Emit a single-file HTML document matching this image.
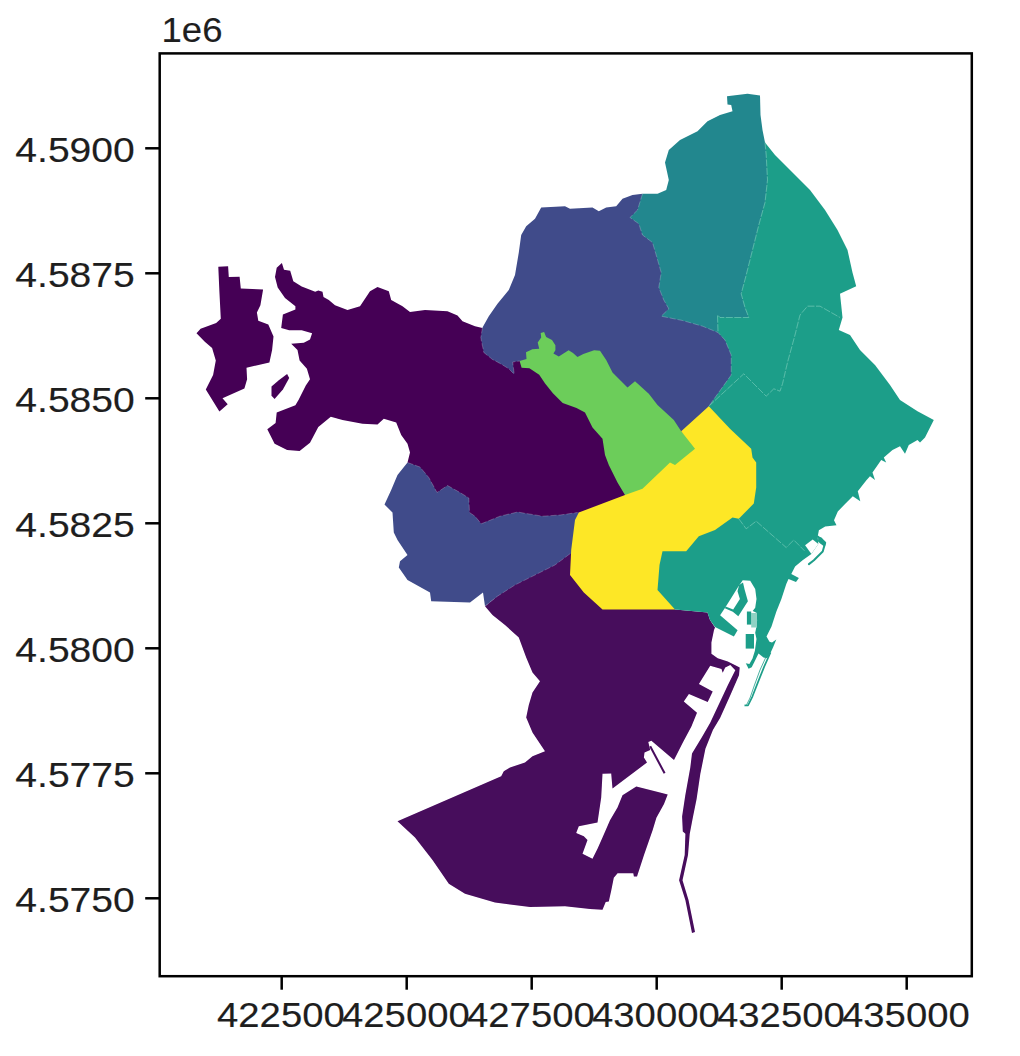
<!DOCTYPE html>
<html lang="en"><head><meta charset="utf-8"><title>Barcelona districts</title>
<style>html,body{margin:0;padding:0;background:#fff;}body{width:1020px;height:1056px;overflow:hidden;}svg{display:block;}text{font-family:"Liberation Sans",sans-serif;fill:#1e1e1e;stroke:#1e1e1e;stroke-width:0.15px;}</style></head><body>
<svg width="1020" height="1056" viewBox="0 0 1020 1056">
<rect width="1020" height="1056" fill="#ffffff"/>
<defs><filter id="soft" x="-2%" y="-2%" width="104%" height="104%"><feGaussianBlur stdDeviation="0.45"/></filter></defs>
<g id="map" shape-rendering="geometricPrecision" filter="url(#soft)">
<polygon points="281.9,262.9 284.0,269.8 290.2,270.8 293.3,281.2 301.7,286.5 315.2,291.7 318.3,290.6 322.5,291.7 323.5,296.9 328.8,300.0 335.0,305.2 347.5,310.0 360.0,306.2 370.0,291.2 377.5,287.0 388.8,291.2 391.2,300.0 402.5,306.2 410.0,312.0 425.0,310.0 447.5,311.2 457.5,315.5 462.5,321.2 475.0,326.2 482.5,328.0 525.0,335.0 600.0,400.0 640.0,490.0 625.0,502.0 585.0,520.0 470.0,525.0 420.0,480.0 407.5,462.5 410.0,452.5 407.5,443.8 401.2,435.0 396.2,422.5 383.8,418.8 377.5,424.5 362.5,423.8 342.5,420.0 330.8,416.7 318.3,427.1 310.0,442.7 299.6,451.0 287.1,450.0 274.6,443.8 267.3,429.2 275.6,422.9 276.7,412.5 295.4,405.2 298.5,400.0 305.8,385.4 310.0,379.2 306.9,368.8 299.6,360.4 297.5,350.0 291.2,343.8 303.8,342.7 310.0,339.6 312.1,333.3 301.7,330.2 289.2,330.2 281.2,328.1 282.9,314.6 295.4,309.4 295.4,306.2 285.0,297.9 277.7,287.5 275.0,277.1 276.7,267.7" fill="#440154" />
<polygon points="218.3,266.7 228.1,266.3 228.8,277.1 239.6,276.7 240.8,288.5 263.1,289.6 260.4,305.2 256.9,312.5 258.3,320.8 268.3,324.6 273.5,336.5 272.1,350.0 269.4,362.5 246.5,367.7 247.1,379.2 244.4,388.5 222.5,398.3 227.7,404.2 219.4,411.5 205.8,389.6 213.1,375.0 215.8,360.4 212.1,347.9 204.8,341.7 196.5,333.3 200.6,328.8 216.2,322.9 220.8,318.8 219.4,291.7" fill="#440154" />
<polygon points="287.1,374.0 289.2,378.1 282.9,389.6 274.6,399.0 271.5,395.8 271.5,386.5 278.8,380.2" fill="#440154" />
<polygon points="485.0,606.2 492.5,615.0 505.0,625.0 518.8,637.5 526.2,657.5 532.5,672.5 540.0,681.2 532.5,692.5 528.8,705.0 526.2,717.5 532.5,732.5 545.0,751.2 532.5,756.2 525.0,762.5 510.0,767.5 503.8,771.2 501.2,776.2 397.5,821.2 415.0,837.5 432.5,860.0 448.8,883.8 465.0,893.8 495.0,902.5 530.0,907.0 565.0,906.2 590.0,909.0 602.5,909.7 605.7,902.1 608.8,901.5 611.3,890.2 613.8,877.7 617.6,873.3 633.3,873.3 633.9,876.4 637.0,876.4 644.0,855.1 652.7,830.0 656.4,817.8 664.0,804.0 667.7,794.6 660.0,792.5 636.3,786.5 622.5,795.2 617.5,807.5 610.0,820.3 602.5,837.5 597.5,848.8 592.5,858.8 582.5,853.8 587.5,840.0 583.8,836.2 576.2,833.0 578.8,826.2 597.5,822.5 601.2,797.5 602.5,773.8 611.2,773.5 612.5,788.5 647.0,762.6 643.9,757.6 644.5,752.6 650.2,750.1 648.3,741.9 651.4,740.7 674.0,760.1 682.6,742.9 691.4,726.6 697.0,712.8 683.8,701.5 688.9,694.0 707.7,702.1 712.7,691.5 698.9,684.0 710.2,665.8 721.5,668.9 722.7,672.7 725.2,667.6 730.3,665.1 735.3,670.2 727.8,685.2 719.0,704.0 710.2,722.8 702.0,737.0 692.0,753.5 690.3,767.6 685.3,795.2 682.1,816.6 682.8,831.6 685.4,833.8 684.7,855.1 679.1,880.2 685.4,900.3 692.0,933.0 695.0,932.0 688.5,900.0 682.5,880.2 688.0,855.0 689.7,834.1 692.8,817.8 696.6,799.0 700.3,773.9 705.4,748.8 712.9,730.0 720.2,717.8 730.3,695.2 739.0,675.2 739.7,667.6 737.8,666.4 727.8,661.4 717.7,658.2 711.4,653.8 711.4,642.5 714.0,630.0 715.0,627.5 710.0,620.0 707.5,612.5 675.0,609.5 670.0,595.0 605.0,595.0 585.0,560.0 580.0,545.0 540.0,560.0" fill="#46085c" />
<polyline points="650.2,746.3 664.6,773.3" fill="none" stroke="#46085c" stroke-width="2.0" />
<polygon points="765.0,142.5 775.0,155.0 792.5,172.5 810.0,190.0 825.0,210.0 837.5,230.0 847.5,250.0 852.5,272.5 856.2,286.2 840.0,293.8 841.2,305.0 842.5,317.5 838.8,330.0 850.0,335.0 860.0,350.0 875.0,365.0 890.0,385.0 900.0,400.0 917.5,411.2 933.8,420.0 925.0,437.5 920.0,442.5 917.5,440.0 908.8,445.0 905.0,453.8 900.0,446.2 892.5,450.0 883.8,457.5 886.2,462.5 881.2,460.0 872.5,472.5 875.0,480.0 870.0,476.2 866.6,480.0 857.8,491.3 860.3,501.3 852.8,496.3 845.3,503.8 837.8,511.4 834.0,520.2 836.5,525.2 825.2,526.4 818.9,530.2 817.7,536.5 818.3,544.0 811.4,554.0 802.6,560.3 795.1,566.6 791.3,574.1 798.9,578.0 796.0,582.0 788.5,579.0 786.3,584.1 781.3,599.2 776.3,611.7 771.5,626.6 766.5,636.6 769.5,641.8 772.0,642.5 776.3,639.5 773.0,647.5 769.3,655.4 767.0,658.2 763.5,657.5 758.5,653.5 754.1,662.5 751.7,667.2 748.6,668.8 745.8,663.3 749.4,664.1 752.5,658.6 754.9,650.7 756.5,639.1 755.2,632.8 756.5,626.6 757.1,620.3 756.5,612.8 752.7,610.9 755.2,607.8 756.5,599.0 755.2,588.9 750.2,580.8 742.7,580.2 737.6,587.7 731.4,597.7 725.1,607.8 720.1,615.3 737.6,630.3 733.9,636.6 715.0,627.0 710.0,620.0 707.5,612.5 675.0,609.5 650.0,600.0 650.0,545.0 700.0,500.0 700.0,300.0 740.0,200.0" fill="#1f9e89" />
<polygon points="805.1,545.2 812.7,539.6 818.3,544.0 811.4,554.0" fill="#ffffff" />
<polyline points="817.7,536.5 825.2,542.7 822.7,551.5 813.9,560.3 808.9,564.1" fill="none" stroke="#1f9e89" stroke-width="2" stroke-linejoin="round" stroke-linecap="round"/>
<polygon points="739.1,584.9 743.0,582.6 744.6,589.6 747.9,601.2 738.3,616.3 732.8,611.8 724.9,608.3 725.6,606.6 733.2,609.6 739.9,599.1 737.5,591.2" fill="#1f9e89" />
<polygon points="751.2,613.0 757.0,613.0 757.0,627.5 751.2,627.5" fill="#8fd2c4" />
<polygon points="746.9,611.5 751.2,611.5 751.2,624.6 746.9,624.6" fill="#1f9e89" />
<polyline points="770.5,652.5 764.3,666.4 758.0,682.1 752.5,696.3 748.0,705.5 744.5,705.3" fill="none" stroke="#1f9e89" stroke-width="1.7" stroke-linejoin="round"/>
<polygon points="818.3,536.6 821.5,537.6 825.8,542.3 825.0,546.6 822.6,545.2 820.2,543.6 818.0,541.5" fill="#1f9e89" />
<polyline points="765.5,658.0 760.0,670.0 754.5,685.0 750.0,698.0 746.5,705.0" fill="none" stroke="#1f9e89" stroke-width="1.0" stroke-opacity="0.8"/>
<polygon points="745.7,634.0 754.0,634.0 754.0,648.6 745.7,648.6" fill="#1f9e89" />
<polygon points="642.5,193.8 657.5,193.8 666.2,190.0 668.8,180.0 665.0,162.5 668.8,150.0 680.0,140.0 697.5,131.2 707.5,121.2 720.0,115.0 732.5,111.2 731.2,105.0 727.5,104.5 727.0,96.2 747.5,93.8 760.0,95.5 760.5,115.0 762.5,130.0 765.0,142.5 766.2,155.0 767.5,180.0 765.0,202.5 758.8,225.0 752.5,250.0 746.2,275.0 741.2,293.8 745.0,307.5 748.8,317.5 720.0,317.5 717.5,315.0 718.0,332.5 690.0,335.0 650.0,320.0 620.0,220.0" fill="#24878e" />
<polygon points="482.5,327.5 488.8,316.2 497.5,303.8 508.8,290.0 515.0,275.0 518.8,252.5 521.2,235.0 526.2,226.2 535.0,218.8 541.2,207.5 565.0,206.2 570.0,208.8 592.5,207.5 598.8,211.2 606.2,207.5 616.2,206.2 622.5,198.8 632.5,195.0 642.5,193.8 637.5,210.0 630.0,217.5 638.8,223.8 642.5,235.0 652.5,242.5 656.2,255.0 661.2,272.5 658.8,287.5 663.8,300.0 668.8,308.8 661.2,316.2 682.5,320.5 702.5,326.2 718.0,332.5 725.0,340.0 731.2,355.0 731.2,375.0 708.8,406.2 690.0,440.0 640.0,420.0 560.0,380.0 519.6,361.0 512.7,362.0 514.2,374.2 508.8,368.8 500.0,363.4 492.5,359.5 483.8,352.5 480.8,337.5" fill="#3f4c8a" />
<polygon points="407.5,462.5 420.0,467.0 428.8,477.5 437.0,492.5 447.5,485.5 460.0,492.5 468.8,498.0 469.5,512.5 475.0,516.2 481.2,523.8 500.0,516.2 517.5,512.0 542.5,516.2 560.0,515.0 577.5,512.5 592.0,511.0 592.0,558.0 570.0,553.8 555.0,565.0 535.0,575.0 515.0,585.0 497.5,596.2 485.0,606.2 483.0,592.5 470.0,602.5 431.2,601.2 430.0,592.5 407.5,580.0 398.8,567.5 400.0,561.2 407.5,555.0 397.5,540.0 393.8,532.5 392.5,512.5 384.5,504.5 391.2,490.0 397.5,475.0" fill="#3f4c8a" />
<polygon points="519.6,361.0 526.5,359.0 526.0,352.2 532.4,349.2 539.2,348.7 537.7,342.4 541.2,337.5 540.7,333.0 544.1,332.1 546.1,337.0 552.0,339.9 555.4,345.3 555.4,350.2 553.4,353.6 558.8,356.6 562.7,354.1 568.6,350.2 573.0,353.1 577.5,357.1 583.3,354.1 594.1,350.2 600.0,350.7 606.2,360.0 612.5,372.5 627.5,387.5 635.0,381.2 648.8,393.8 657.5,405.0 673.8,420.0 681.2,431.2 700.0,450.0 675.0,472.0 645.0,497.0 625.0,502.0 625.0,495.0 617.5,482.5 608.8,465.0 605.0,455.0 602.5,438.8 592.5,427.5 585.0,412.5 576.5,408.0 562.7,403.1 552.9,393.3 545.1,383.5 539.2,374.7 529.4,368.3 521.6,367.8" fill="#6ccd5a" />
<polygon points="708.8,406.2 730.0,428.8 751.2,448.8 752.5,457.5 756.2,462.5 756.2,487.5 753.8,503.5 738.8,518.8 732.5,517.5 715.0,530.0 698.8,536.2 686.2,551.2 662.5,551.2 659.5,565.0 657.5,590.0 675.0,609.5 602.5,609.5 583.8,592.5 570.0,575.0 571.2,550.0 575.0,520.0 578.8,512.5 625.0,495.0 642.5,488.8 670.0,462.5 675.0,465.0 695.0,448.8 681.2,431.2" fill="#fde725" />
<polyline points="765.0,142.5 766.2,155.0 767.5,180.0 765.0,202.5 758.8,225.0 752.5,250.0 746.2,275.0 741.2,293.8 745.0,307.5 748.8,317.5 720.0,317.5 717.5,315.0 718.0,332.5" fill="none" stroke="#6fc9b6" stroke-width="1.0" stroke-opacity="0.7" stroke-dasharray="7 1.5"/>
<polyline points="708.8,406.2 743.8,373.8 766.2,396.2 773.8,388.8 780.0,391.2 782.5,383.8 787.5,362.5 795.0,335.0 800.0,315.0 807.5,306.2 820.0,306.2 840.0,317.5" fill="none" stroke="#6fc9b6" stroke-width="1.0" stroke-opacity="0.7" stroke-dasharray="7 1.5"/>
<polyline points="738.8,518.8 746.2,528.8 756.2,521.2 786.2,547.5 793.8,540.0 804.5,550.8" fill="none" stroke="#6fc9b6" stroke-width="1.0" stroke-opacity="0.7" stroke-dasharray="7 1.5"/>
<polyline points="642.5,193.8 637.5,210.0 630.0,217.5 638.8,223.8 642.5,235.0 652.5,242.5 656.2,255.0 661.2,272.5 658.8,287.5 663.8,300.0 668.8,308.8 661.2,316.2 682.5,320.5 702.5,326.2 718.0,332.5 725.0,340.0 731.2,355.0 731.2,375.0 708.8,406.2" fill="none" stroke="#ffffff" stroke-width="0.8" stroke-opacity="0.28" stroke-dasharray="6 2"/>
<polyline points="482.5,327.5 480.8,337.5 483.8,352.5 492.5,359.5 500.0,363.4 508.8,368.8 514.2,374.2 512.7,362.0 519.6,361.0" fill="none" stroke="#ffffff" stroke-width="0.8" stroke-opacity="0.28" stroke-dasharray="6 2"/>
<polyline points="407.5,462.5 420.0,467.0 428.8,477.5 437.0,492.5 447.5,485.5 460.0,492.5 468.8,498.0 469.5,512.5 475.0,516.2 481.2,523.8 500.0,516.2 517.5,512.0 542.5,516.2 560.0,515.0 577.5,512.5" fill="none" stroke="#ffffff" stroke-width="0.8" stroke-opacity="0.28" stroke-dasharray="6 2"/>
<polyline points="570.0,553.8 555.0,565.0 535.0,575.0 515.0,585.0 497.5,596.2 485.0,606.2" fill="none" stroke="#ffffff" stroke-width="0.8" stroke-opacity="0.28" stroke-dasharray="6 2"/>
</g>
<rect x="159.7" y="53.4" width="812.1" height="922.8" fill="none" stroke="#000" stroke-width="2.5"/>
<line x1="145.2" y1="148.3" x2="159.7" y2="148.3" stroke="#000" stroke-width="2.5"/>
<line x1="145.2" y1="273.3" x2="159.7" y2="273.3" stroke="#000" stroke-width="2.5"/>
<line x1="145.2" y1="398.3" x2="159.7" y2="398.3" stroke="#000" stroke-width="2.5"/>
<line x1="145.2" y1="523.3" x2="159.7" y2="523.3" stroke="#000" stroke-width="2.5"/>
<line x1="145.2" y1="648.3" x2="159.7" y2="648.3" stroke="#000" stroke-width="2.5"/>
<line x1="145.2" y1="773.3" x2="159.7" y2="773.3" stroke="#000" stroke-width="2.5"/>
<line x1="145.2" y1="898.3" x2="159.7" y2="898.3" stroke="#000" stroke-width="2.5"/>
<line x1="281.7" y1="976.2" x2="281.7" y2="989.7" stroke="#000" stroke-width="2.5"/>
<line x1="406.7" y1="976.2" x2="406.7" y2="989.7" stroke="#000" stroke-width="2.5"/>
<line x1="531.7" y1="976.2" x2="531.7" y2="989.7" stroke="#000" stroke-width="2.5"/>
<line x1="656.7" y1="976.2" x2="656.7" y2="989.7" stroke="#000" stroke-width="2.5"/>
<line x1="781.7" y1="976.2" x2="781.7" y2="989.7" stroke="#000" stroke-width="2.5"/>
<line x1="906.7" y1="976.2" x2="906.7" y2="989.7" stroke="#000" stroke-width="2.5"/>
<text x="134.8" y="162.2" font-size="35" text-anchor="end" textLength="119.5" lengthAdjust="spacingAndGlyphs">4.5900</text>
<text x="134.8" y="287.2" font-size="35" text-anchor="end" textLength="119.5" lengthAdjust="spacingAndGlyphs">4.5875</text>
<text x="134.8" y="412.2" font-size="35" text-anchor="end" textLength="119.5" lengthAdjust="spacingAndGlyphs">4.5850</text>
<text x="134.8" y="537.2" font-size="35" text-anchor="end" textLength="119.5" lengthAdjust="spacingAndGlyphs">4.5825</text>
<text x="134.8" y="662.2" font-size="35" text-anchor="end" textLength="119.5" lengthAdjust="spacingAndGlyphs">4.5800</text>
<text x="134.8" y="787.2" font-size="35" text-anchor="end" textLength="119.5" lengthAdjust="spacingAndGlyphs">4.5775</text>
<text x="134.8" y="912.2" font-size="35" text-anchor="end" textLength="119.5" lengthAdjust="spacingAndGlyphs">4.5750</text>
<text x="280.9" y="1027.3" font-size="35" text-anchor="middle" textLength="127.8" lengthAdjust="spacingAndGlyphs">422500</text>
<text x="405.9" y="1027.3" font-size="35" text-anchor="middle" textLength="127.8" lengthAdjust="spacingAndGlyphs">425000</text>
<text x="530.9" y="1027.3" font-size="35" text-anchor="middle" textLength="127.8" lengthAdjust="spacingAndGlyphs">427500</text>
<text x="655.9" y="1027.3" font-size="35" text-anchor="middle" textLength="127.8" lengthAdjust="spacingAndGlyphs">430000</text>
<text x="780.9" y="1027.3" font-size="35" text-anchor="middle" textLength="127.8" lengthAdjust="spacingAndGlyphs">432500</text>
<text x="905.9" y="1027.3" font-size="35" text-anchor="middle" textLength="127.8" lengthAdjust="spacingAndGlyphs">435000</text>
<text x="161.5" y="41.6" font-size="35" textLength="61" lengthAdjust="spacingAndGlyphs">1e6</text>
</svg></body></html>
